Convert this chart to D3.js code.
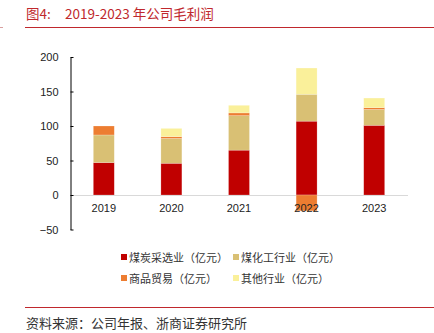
<!DOCTYPE html>
<html>
<head>
  <style>
    body { margin: 0; background: white; }
    text { font-family: "Liberation Sans", Arial, sans-serif; }
    .cjk { font-family: "Noto Sans CJK SC", sans-serif; }
  </style>
</head>
<body>
  <script src="https://d3js.org/d3.v7.min.js"></script>
  <script>
    var width = 434, height = 333;

    var years = ["2019", "2020", "2021", "2022", "2023"];
    var coal = [47, 46, 65, 107, 101];
    var chem = [40, 36, 50, 39, 23];
    var trade = [13, 2.5, 4, -23, 2.5];
    var other = [0, 12, 11, 38, 14];
    var seriesNames = ["煤炭采选业（亿元）", "煤化工行业（亿元）", "商品贸易（亿元）", "其他行业（亿元）"];
    var colors = ["#C00000", "#D9C074", "#ED7D31", "#FAF09A"];
    var yTicks = [-50, 0, 50, 100, 150, 200];

    var series = [coal, chem, trade, other];

    var svg = d3.select("body").append("svg")
        .attr("width", width).attr("height", height);

    // title and rules
    svg.append("text").attr("class", "cjk")
        .attr("x", 26).attr("y", 19)
        .attr("fill", "#C0282D").attr("font-size", 13.5)
        .text("图4:");
    svg.append("text").attr("class", "cjk")
        .attr("x", 65).attr("y", 19)
        .attr("fill", "#C0282D").attr("font-size", 13.5)
        .text("2019-2023 年公司毛利润");
    svg.append("line").attr("x1", 25).attr("x2", 434).attr("y1", 27.5).attr("y2", 27.5)
        .attr("stroke", "#C0282D").attr("stroke-width", 1);
    svg.append("line").attr("x1", 0).attr("x2", 3).attr("y1", 27.5).attr("y2", 27.5)
        .attr("stroke", "#d9a0a0");
    svg.append("line").attr("x1", 25).attr("x2", 434).attr("y1", 307.5).attr("y2", 307.5)
        .attr("stroke", "#C0282D").attr("stroke-width", 1);
    svg.append("text").attr("class", "cjk")
        .attr("x", 26).attr("y", 328)
        .attr("fill", "#333").attr("font-size", 13)
        .text("资料来源：公司年报、浙商证券研究所");

    var x = d3.scaleBand().domain(years).range([70, 408]).paddingInner(0.69).paddingOuter(0.345);
    var y = d3.scaleLinear().domain([-50, 200]).range([229.5, 57]);

    // stack with positive/negative offsets
    var rows = years.map((yr, i) => {
      var o = { year: yr };
      series.forEach((s, k) => o["s" + k] = s[i]);
      return o;
    });
    var stack = d3.stack().keys(["s0", "s1", "s2", "s3"]).offset(d3.stackOffsetDiverging);
    var stacked = stack(rows);

    // zero line
    svg.append("line")
        .attr("x1", 70).attr("x2", 408)
        .attr("y1", Math.round(y(0)) + 0.5).attr("y2", Math.round(y(0)) + 0.5)
        .attr("stroke", "#d9d9d9");

    svg.selectAll("g.layer")
        .data(stacked)
      .enter().append("g")
        .attr("class", "layer")
        .attr("fill", (d, i) => colors[i])
      .selectAll("rect")
        .data(d => d)
      .enter().append("rect")
        .attr("x", d => x(d.data.year))
        .attr("width", x.bandwidth())
        .attr("y", d => y(Math.max(d[0], d[1])))
        .attr("height", d => Math.abs(y(d[0]) - y(d[1])))
        .attr("stroke", "rgba(255,255,255,0.35)")
        .attr("stroke-width", 0.6);

    // y axis
    var yAxis = svg.append("g")
        .attr("transform", "translate(70.5,0)")
        .call(d3.axisLeft(y).tickValues(yTicks).tickSizeInner(-3).tickSizeOuter(0).tickPadding(12)
          .tickFormat(d => d < 0 ? "\u2212" + Math.abs(d) : d));
    yAxis.select(".domain").attr("stroke", "#000");
    yAxis.selectAll(".tick line").attr("stroke", "#000");
    yAxis.selectAll(".tick text").attr("font-size", 11).attr("fill", "#222")
        .attr("font-family", "Liberation Sans, Arial, sans-serif");

    // x labels
    svg.selectAll("text.xl")
        .data(years)
      .enter().append("text")
        .attr("class", "xl")
        .attr("x", d => x(d) + x.bandwidth() / 2)
        .attr("y", 212)
        .attr("text-anchor", "middle")
        .attr("font-size", 11).attr("fill", "#222")
        .text(d => d);

    // legend
    var legendPos = [[121, 258], [233, 258], [121, 279], [233, 279]];
    var legend = svg.selectAll("g.leg")
        .data(seriesNames)
      .enter().append("g")
        .attr("class", "leg")
        .attr("transform", (d, i) => "translate(" + legendPos[i] + ")");
    legend.append("rect")
        .attr("x", 0).attr("y", -4).attr("width", 6).attr("height", 6)
        .attr("fill", (d, i) => colors[i]);
    legend.append("text").attr("class", "cjk")
        .attr("x", 8).attr("y", 3.5)
        .attr("font-size", 11).attr("fill", "#333")
        .text(d => d);
  </script>
</body>
</html>
